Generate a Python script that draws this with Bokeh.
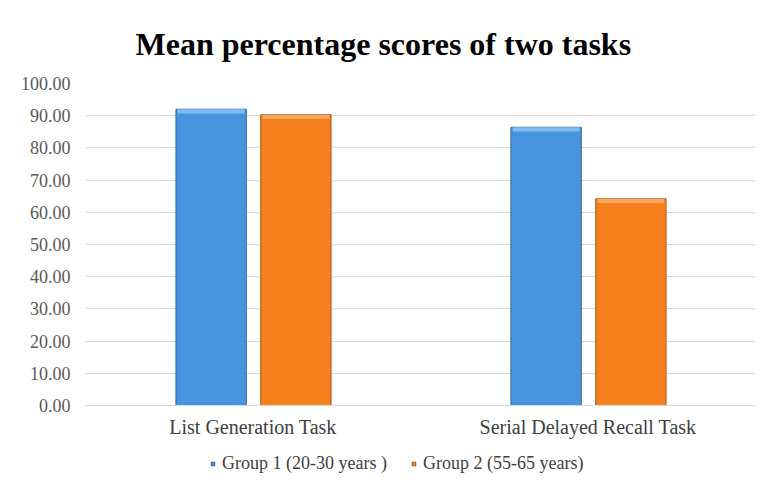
from bokeh.plotting import figure
from bokeh.layouts import column
from bokeh.models import FactorRange, Legend, LegendItem, NumeralTickFormatter, ColumnDataSource
from bokeh.transform import dodge
from bokeh.embed import file_html
from bokeh.resources import INLINE

categories = ["List Generation Task", "Serial Delayed Recall Task"]
group1 = [92.0, 86.4]
group2 = [90.3, 64.2]
series_names = ["Group 1 (20-30 years )", "Group 2 (55-65 years)"]
y_ticks = [0, 10, 20, 30, 40, 50, 60, 70, 80, 90, 100]

FONT = "Liberation Serif"
BLUE, BLUE_EDGE, BLUE_LIGHT = "#4793dd", "#2d67a3", "#7fbdf0"
ORANGE, ORANGE_EDGE, ORANGE_LIGHT = "#f47f1c", "#b25812", "#f9a75e"

src = ColumnDataSource(dict(cat=categories, g1=group1, g2=group2,
                            g1cap=[v - 1.3 for v in group1],
                            g2cap=[v - 1.3 for v in group2]))

p = figure(x_range=FactorRange(*categories), y_range=(0, 100),
           width=762, height=440, output_backend="svg", toolbar_location=None,
           min_border_left=85, min_border_right=7, min_border_top=83, min_border_bottom=34)
p.border_fill_color = "white"
p.outline_line_color = None

p.title.text = "Mean percentage scores of two tasks"
p.title.text_font = FONT
p.title.text_font_size = "32px"
p.title.text_font_style = "bold"
p.title.text_color = "#000000"
p.title.align = "left"
p.title.offset = 50
p.title.standoff = 44

x1 = dodge("cat", -0.125, range=p.x_range)
x2 = dodge("cat", 0.128, range=p.x_range)
p.vbar(x=x1, top="g1", width=0.21, source=src,
       fill_color=BLUE, line_color=BLUE_EDGE, line_width=1)
p.vbar(x=x2, top="g2", width=0.21, source=src,
       fill_color=ORANGE, line_color=ORANGE_EDGE, line_width=1)
# lighter bevel on bar tops
p.vbar(x=x1, top="g1", bottom="g1cap", width=0.2, source=src,
       fill_color=BLUE_LIGHT, line_color=None)
p.vbar(x=x2, top="g2", bottom="g2cap", width=0.2, source=src,
       fill_color=ORANGE_LIGHT, line_color=None)

p.yaxis.ticker = y_ticks
p.yaxis.formatter = NumeralTickFormatter(format="0.00")
p.yaxis.axis_line_color = None
p.yaxis.major_tick_line_color = None
p.yaxis.minor_tick_line_color = None
p.yaxis.major_label_text_font = FONT
p.yaxis.major_label_text_font_size = "18px"
p.yaxis.major_label_text_color = "#595959"
p.yaxis.major_label_standoff = 9

p.xaxis.axis_line_color = "#d9d9d9"
p.xaxis.major_tick_line_color = None
p.xaxis.minor_tick_line_color = None
p.xaxis.major_label_text_font = FONT
p.xaxis.major_label_text_font_size = "20px"
p.xaxis.major_label_text_color = "#404040"
p.xaxis.major_label_standoff = 4

p.xgrid.grid_line_color = None
p.ygrid.grid_line_color = "#d9d9d9"
p.ygrid.grid_line_width = 1

# legend strip below the chart (its frame is aligned with the chart's frame)
leg = figure(width=762, height=42, output_backend="svg", toolbar_location=None,
             x_range=(0, 1), y_range=(0, 1),
             min_border_left=0, min_border_right=0, min_border_top=0, min_border_bottom=0)
leg.axis.visible = False
leg.grid.visible = False
leg.outline_line_color = None
lr1 = leg.scatter(x=[0.5], y=[500], marker="square", size=9,
                  fill_color=BLUE, line_color=BLUE_EDGE)
lr2 = leg.scatter(x=[0.5], y=[500], marker="square", size=9,
                  fill_color=ORANGE, line_color=ORANGE_EDGE)
legend = Legend(items=[LegendItem(label=series_names[0], renderers=[lr1]),
                       LegendItem(label=series_names[1], renderers=[lr2])],
                orientation="horizontal", location=(123, 8),
                label_text_font=FONT, label_text_font_size="18px", label_text_color="#404040",
                glyph_width=9, glyph_height=9, label_standoff=5, spacing=22,
                border_line_color=None, background_fill_alpha=0, padding=0, margin=0)
leg.add_layout(legend)

layout = column(p, leg, spacing=0)
open("out.html", "w").write(file_html(layout, INLINE))
